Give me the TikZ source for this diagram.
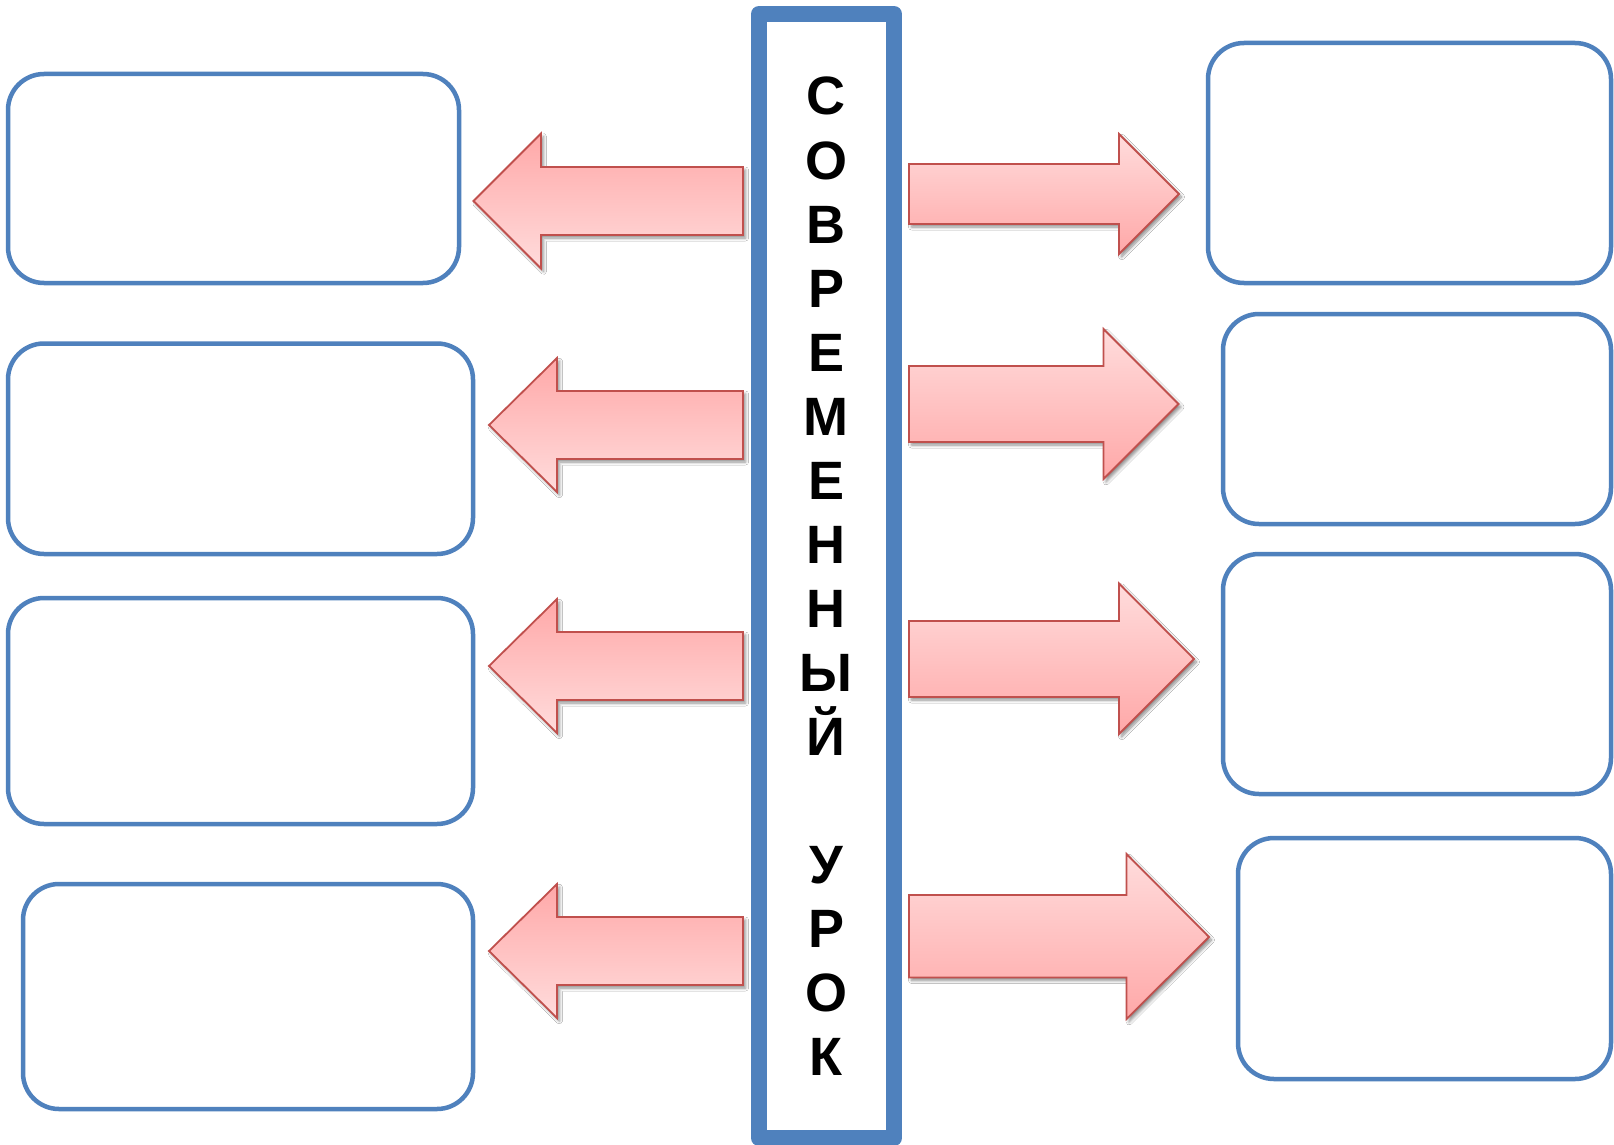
\documentclass[tikz,border=0pt]{standalone}
\usepackage{fontspec}
\newfontfamily\barfont{Liberation Sans}
\usetikzlibrary{shadows.blur}
\definecolor{boxblue}{HTML}{4F81BD}
\definecolor{arrred}{HTML}{C0504D}
\definecolor{pinklight}{HTML}{FFDCDC}
\definecolor{pinkdark}{HTML}{FFA8A8}
\tikzset{
  box/.style={draw=boxblue, line width=4.5pt, rounded corners=36pt, fill=white, inner sep=0pt, outer sep=0pt},
  rarrow/.style={draw=arrred, line width=1.8pt, line join=miter, top color=pinklight, bottom color=pinkdark,
    blur shadow={shadow xshift=2.5pt, shadow yshift=-3pt, shadow blur steps=6, shadow blur radius=3pt, shadow opacity=45}},
  larrow/.style={draw=arrred, line width=1.8pt, line join=miter, top color=pinkdark, bottom color=pinklight,
    blur shadow={shadow xshift=2.5pt, shadow yshift=-3pt, shadow blur steps=6, shadow blur radius=3pt, shadow opacity=45}},
  bar/.style={draw=boxblue, line width=16pt, line join=round, fill=white},
  letter/.style={font=\barfont\bfseries\fontsize{54}{60}\selectfont, anchor=base, inner sep=0pt, text=black}
}
\begin{document}
\begin{tikzpicture}[x=1pt,y=-1pt]
\useasboundingbox[fill=white] (0,0) rectangle (1614,1145);
% left boxes
\node[box, minimum width=451pt, minimum height=209pt] (L1) at (233.5,178.5) {};
\node[box, minimum width=465pt, minimum height=210.5pt] (L2) at (240.5,448.75) {};
\node[box, minimum width=465pt, minimum height=226pt] (L3) at (240.5,711) {};
\node[box, minimum width=450pt, minimum height=225pt] (L4) at (248,996.5) {};
% right boxes
\node[box, minimum width=403pt, minimum height=240pt] (R1) at (1409.5,163) {};
\node[box, minimum width=388pt, minimum height=210pt] (R2) at (1417,419) {};
\node[box, minimum width=388pt, minimum height=240pt] (R3) at (1417,674) {};
\node[box, minimum width=373pt, minimum height=241pt] (R4) at (1424.5,958.5) {};
% left arrows
\path[larrow] (743,167) -- (541,167) -- (541,133.5) -- (473.5,201) -- (541,268.5) -- (541,235) -- (743,235) -- cycle;
\path[larrow] (743,391) -- (557,391) -- (557,358) -- (489,425) -- (557,492) -- (557,459) -- (743,459) -- cycle;
\path[larrow] (743,632) -- (557,632) -- (557,599) -- (489,666) -- (557,733) -- (557,700) -- (743,700) -- cycle;
\path[larrow] (743,917) -- (557,917) -- (557,884) -- (489,951) -- (557,1018) -- (557,985) -- (743,985) -- cycle;
% right arrows
\path[rarrow] (909,164) -- (1119,164) -- (1119,134) -- (1179,194) -- (1119,254) -- (1119,224) -- (909,224) -- cycle;
\path[rarrow] (909,366) -- (1103.5,366) -- (1103.5,329) -- (1178.5,404) -- (1103.5,479) -- (1103.5,442) -- (909,442) -- cycle;
\path[rarrow] (909,621) -- (1119,621) -- (1119,583.5) -- (1194,659) -- (1119,734) -- (1119,697) -- (909,697) -- cycle;
\path[rarrow] (909,895) -- (1126.5,895) -- (1126.5,854) -- (1209,937) -- (1126.5,1019) -- (1126.5,977.5) -- (909,977.5) -- cycle;
% central bar
\node[bar, minimum width=135pt, minimum height=1124pt, inner sep=0pt, outer sep=0pt] (B) at (826.5,576) {};
\foreach \i/\l in {0/С,1/О,2/В,3/Р,4/Е,5/М,6/Е,7/Н,8/Н,9/Ы,10/Й,12/У,13/Р,14/О,15/К}{
  \node[letter] (t\i) at (826,115+64.05*\i) {\l};
}
\end{tikzpicture}
\end{document}
